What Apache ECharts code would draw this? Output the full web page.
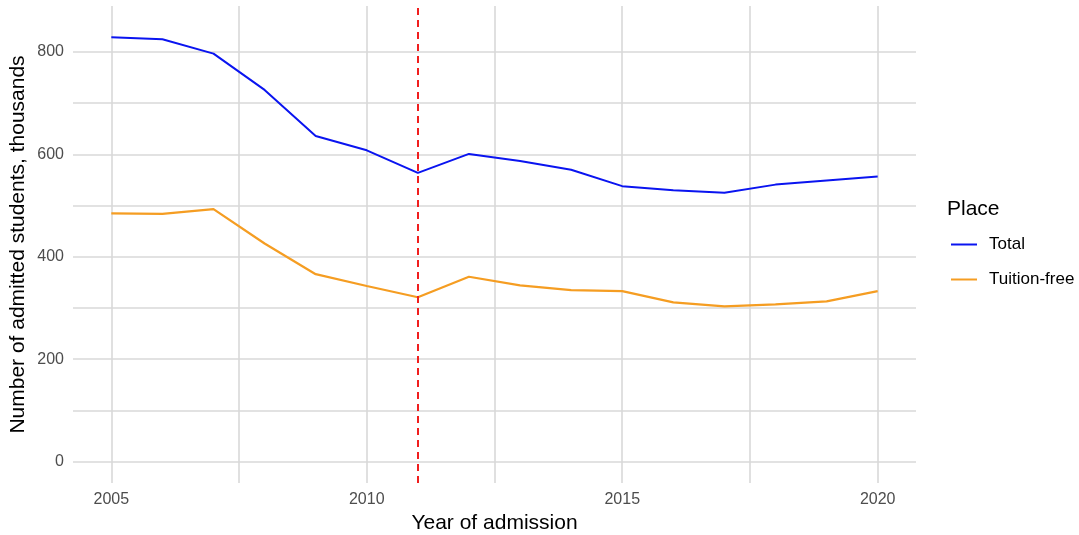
<!DOCTYPE html>
<html>
<head>
<meta charset="utf-8">
<script src="https://cdn.jsdelivr.net/npm/echarts@6/dist/echarts.min.js"></script>
<style>
  html, body { margin: 0; padding: 0; background: #fff; }
  #chart { width: 1079px; height: 535px; }
</style>
</head>
<body>
<div id="chart"></div>
<script>
var years = [2005, 2006, 2007, 2008, 2009, 2010, 2011, 2012, 2013, 2014, 2015, 2016, 2017, 2018, 2019, 2020];
var total = [829, 825, 797, 726, 636, 608, 564, 601, 587, 570, 538, 530, 525, 541, 549, 557];
var tuitionFree = [485, 484, 493, 426, 366, 343, 321, 361, 344, 335, 333, 311, 303, 307, 313, 333];
var xTicks = [2005, 2007.5, 2010, 2012.5, 2015, 2017.5, 2020];
var xLabels = [2005, 2010, 2015, 2020];
var yTicks = [0, 100, 200, 300, 400, 500, 600, 700, 800];
var yLabels = [0, 200, 400, 600, 800];
var markYear = 2011;

var chart = echarts.init(document.getElementById("chart"));

function pairs(vals) {
  return years.map(function (y, i) { return [y, vals[i]]; });
}

var gridColor = "#d9d9d9";
var font = "Liberation Sans, Arial, sans-serif";

var option = {
  animation: false,
  textStyle: { fontFamily: font },
  title: {
    text: "Place",
    left: 947,
    top: 199,
    padding: 0,
    textStyle: { fontSize: 21, fontWeight: "normal", color: "#000", fontFamily: font }
  },
  legend: {
    orient: "vertical",
    left: 951,
    top: 236,
    padding: 0,
    icon: "rect",
    itemWidth: 26,
    itemHeight: 2,
    itemGap: 18,
    textStyle: { fontSize: 17, color: "#000", padding: [0, 0, 0, 7] },
    data: ["Total", "Tuition-free"]
  },
  grid: { left: 73, right: 163, top: 6, bottom: 52, outerBoundsMode: "none", containLabel: false },
  xAxis: {
    type: "value",
    min: 2004.25,
    max: 2020.75,
    name: "Year of admission",
    nameLocation: "middle",
    nameGap: 30,
    nameTextStyle: { fontSize: 21, color: "#000" },
    axisLine: { show: false },
    axisTick: { show: false, customValues: xTicks },
    axisLabel: {
      customValues: xLabels,
      color: "#4d4d4d",
      fontSize: 16,
      margin: 9,
      formatter: function (v) { return String(v); }
    },
    splitLine: { show: true, lineStyle: { color: gridColor, width: 1.6 } }
  },
  yAxis: {
    type: "value",
    min: -42,
    max: 890,
    name: "Number of admitted students, thousands",
    nameLocation: "middle",
    nameGap: 44,
    nameMoveOverlap: false,
    nameTextStyle: { fontSize: 21, color: "#000" },
    axisLine: { show: false },
    axisTick: { show: false, customValues: yTicks },
    axisLabel: {
      customValues: yLabels,
      color: "#4d4d4d",
      fontSize: 16,
      margin: 9,
      formatter: function (v) { return String(v); }
    },
    splitLine: { show: true, lineStyle: { color: gridColor, width: 1.6 } }
  },
  series: [
    {
      name: "Total",
      type: "line",
      data: pairs(total),
      showSymbol: false,
      symbol: "none",
      itemStyle: { color: "#0a14f0" },
      lineStyle: { color: "#0a14f0", width: 2 },
      markLine: {
        silent: true,
        symbol: "none",
        label: { show: false },
        lineStyle: { color: "#f01e1e", type: [7, 5], width: 2 },
        data: [{ xAxis: markYear }]
      }
    },
    {
      name: "Tuition-free",
      type: "line",
      data: pairs(tuitionFree),
      showSymbol: false,
      symbol: "none",
      itemStyle: { color: "#f59d22" },
      lineStyle: { color: "#f59d22", width: 2.2 }
    }
  ]
};

chart.setOption(option);
</script>
</body>
</html>
